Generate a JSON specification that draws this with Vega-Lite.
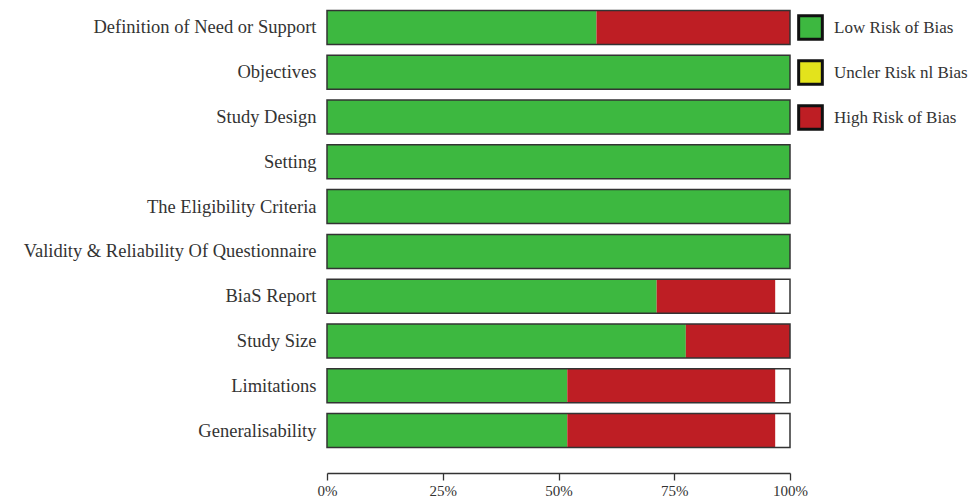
{
  "$schema": "https://vega.github.io/schema/vega-lite/v6.json",
  "autosize": "none",
  "width": 463,
  "height": 448,
  "padding": {"left": 327, "top": 5, "right": 190, "bottom": 46},
  "background": "white",
  "config": {"view": {"stroke": null}, "font": "Liberation Serif"},
  "datasets": {
    "cats": [
      {"domain": "Definition of Need or Support"},
      {"domain": "Objectives"},
      {"domain": "Study Design"},
      {"domain": "Setting"},
      {"domain": "The Eligibility Criteria"},
      {"domain": "Validity & Reliability Of Questionnaire"},
      {"domain": "BiaS Report"},
      {"domain": "Study Size"},
      {"domain": "Limitations"},
      {"domain": "Generalisability"}
    ],
    "risk": [
      {"domain": "Definition of Need or Support", "risk": "Low Risk of Bias", "ord": 1, "value": 58.2},
      {"domain": "Definition of Need or Support", "risk": "High Risk of Bias", "ord": 3, "value": 41.8},
      {"domain": "Objectives", "risk": "Low Risk of Bias", "ord": 1, "value": 100},
      {"domain": "Study Design", "risk": "Low Risk of Bias", "ord": 1, "value": 100},
      {"domain": "Setting", "risk": "Low Risk of Bias", "ord": 1, "value": 100},
      {"domain": "The Eligibility Criteria", "risk": "Low Risk of Bias", "ord": 1, "value": 100},
      {"domain": "Validity & Reliability Of Questionnaire", "risk": "Low Risk of Bias", "ord": 1, "value": 100},
      {"domain": "BiaS Report", "risk": "Low Risk of Bias", "ord": 1, "value": 71.2},
      {"domain": "BiaS Report", "risk": "High Risk of Bias", "ord": 3, "value": 25.6},
      {"domain": "Study Size", "risk": "Low Risk of Bias", "ord": 1, "value": 77.5},
      {"domain": "Study Size", "risk": "High Risk of Bias", "ord": 3, "value": 22.5},
      {"domain": "Limitations", "risk": "Low Risk of Bias", "ord": 1, "value": 51.9},
      {"domain": "Limitations", "risk": "High Risk of Bias", "ord": 3, "value": 44.9},
      {"domain": "Generalisability", "risk": "Low Risk of Bias", "ord": 1, "value": 51.9},
      {"domain": "Generalisability", "risk": "High Risk of Bias", "ord": 3, "value": 44.9}
    ]
  },
  "encoding": {
    "y": {
      "field": "domain",
      "type": "nominal",
      "sort": null,
      "scale": {"paddingInner": 0.24, "paddingOuter": 0.12},
      "axis": {"title": null, "domain": false, "ticks": false, "labelPadding": 11, "labelFontSize": 18.5, "labelColor": "#333", "labelFont": "Liberation Serif", "labelLimit": 400}
    }
  },
  "layer": [
    {
      "data": {"name": "cats"},
      "mark": {"type": "bar", "fill": "white"},
      "encoding": {
        "x": {"datum": 100, "type": "quantitative", "scale": {"domain": [0, 100]},
          "axis": {"title": null, "values": [0, 25, 50, 75, 100], "grid": false, "offset": 20, "tickSize": 7, "domainColor": "#333", "tickColor": "#333", "domainWidth": 1.3, "tickWidth": 1.3, "labelExpr": "datum.value + '%'", "labelFontSize": 15, "labelColor": "#333", "labelPadding": 3, "labelFlush": false, "labelBaseline": "top"}},
        "x2": {"datum": 0}
      }
    },
    {
      "data": {"name": "risk"},
      "mark": {"type": "bar"},
      "encoding": {
        "x": {"field": "value", "type": "quantitative", "stack": "zero"},
        "order": {"field": "ord"},
        "color": {
          "field": "risk", "type": "nominal",
          "scale": {"domain": ["Low Risk of Bias", "Uncler Risk nl Bias", "High Risk of Bias"], "range": ["#3db840", "#e3e31c", "#be1e24"]},
          "legend": {"title": null, "orient": "none", "legendX": 470, "legendY": 9, "symbolType": "square", "symbolSize": 560, "symbolStrokeColor": "#111", "symbolStrokeWidth": 3, "symbolOpacity": 1, "rowPadding": 8, "labelFontSize": 17, "labelColor": "#333", "labelOffset": 10, "labelFont": "Liberation Serif", "labelLimit": 200}
        }
      }
    },
    {
      "data": {"name": "cats"},
      "mark": {"type": "bar", "fill": null, "fillOpacity": 0, "stroke": "#333", "strokeWidth": 1.5},
      "encoding": {
        "x": {"datum": 100, "type": "quantitative"},
        "x2": {"datum": 0}
      }
    }
  ]
}
